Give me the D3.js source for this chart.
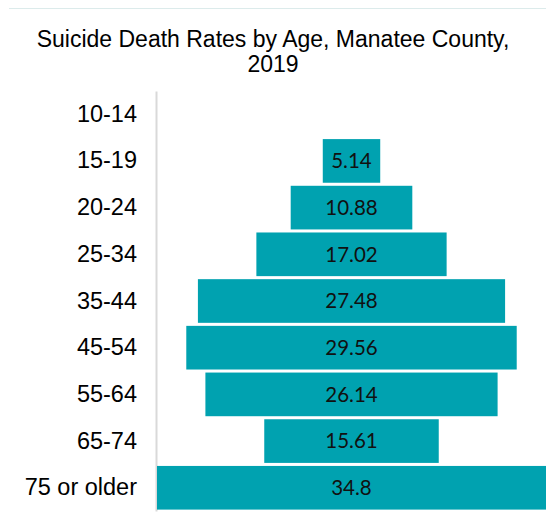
<!DOCTYPE html>
<html>
<head>
<meta charset="utf-8">
<script src="https://cdn.jsdelivr.net/npm/d3@7"></script>
<style>
  body { margin: 0; background: #fff; }
</style>
</head>
<body>
<div id="chart"></div>
<script>
// ---------- DATA ----------
const ageGroups = ["10-14", "15-19", "20-24", "25-34", "35-44", "45-54", "55-64", "65-74", "75 or older"];
const rates = [null, 5.14, 10.88, 17.02, 27.48, 29.56, 26.14, 15.61, 34.8];
const titleLines = ["Suicide Death Rates by Age, Manatee County,", "2019"];

// ---------- SVG ----------
const width = 546;
const height = 525;
const axisX = 156;
const plotRight = 546;

const svg = d3.select("#chart")
    .append("svg")
    .attr("width", width)
    .attr("height", height);

// thin border line on top
svg.append("line")
    .attr("x1", 9).attr("x2", width)
    .attr("y1", 8.5).attr("y2", 8.5)
    .attr("stroke", "#dcebeb")
    .attr("stroke-width", 1);

// title
svg.append("text")
    .attr("x", 273)
    .attr("y", 47)
    .attr("text-anchor", "middle")
    .style("font-family", "'Liberation Sans', Arial, sans-serif")
    .style("font-size", "23px")
    .attr("fill", "#000")
    .selectAll("tspan")
    .data(titleLines)
    .join("tspan")
    .attr("x", 273)
    .attr("dy", (d, i) => i === 0 ? 0 : 25)
    .text(d => d);

// ---------- SCALES ----------
const y = d3.scaleBand()
    .domain(ageGroups)
    .range([91, 511])
    .paddingInner(0.065)
    .paddingOuter(0.03);

const maxRate = d3.max(rates);
// funnel: bars centered, widest bar fills from the axis to the right edge
const x = d3.scaleLinear()
    .domain([-maxRate / 2, maxRate / 2])
    .range([axisX + 1, plotRight]);

// ---------- AXIS ----------
const yAxis = d3.axisLeft(y).tickSize(0).tickPadding(19);
const gAxis = svg.append("g")
    .attr("transform", `translate(${axisX},0)`)
    .call(yAxis);
gAxis.select(".domain")
    .attr("stroke", "#d9d9d9")
    .attr("stroke-width", 2);
gAxis.selectAll("text")
    .style("font-family", "'Liberation Sans', Arial, sans-serif")
    .style("font-size", "23.5px")
    .attr("fill", "#000");

// ---------- BARS ----------
const rows = ageGroups.map((g, i) => ({ group: g, rate: rates[i] }))
    .filter(d => d.rate != null);

svg.selectAll("rect.bar")
    .data(rows)
    .join("rect")
    .attr("class", "bar")
    .attr("x", d => x(-d.rate / 2))
    .attr("y", d => y(d.group))
    .attr("width", d => x(d.rate / 2) - x(-d.rate / 2))
    .attr("height", y.bandwidth())
    .attr("fill", "#00a2b0");

svg.selectAll("text.val")
    .data(rows)
    .join("text")
    .attr("class", "val")
    .attr("x", x(0))
    .attr("y", d => y(d.group) + y.bandwidth() / 2)
    .attr("dy", "0.36em")
    .attr("text-anchor", "middle")
    .style("font-family", "Lato, Carlito, Calibri, sans-serif")
    .style("font-size", "20.5px")
    .attr("fill", "#111")
    .text(d => d.rate);
</script>
</body>
</html>
